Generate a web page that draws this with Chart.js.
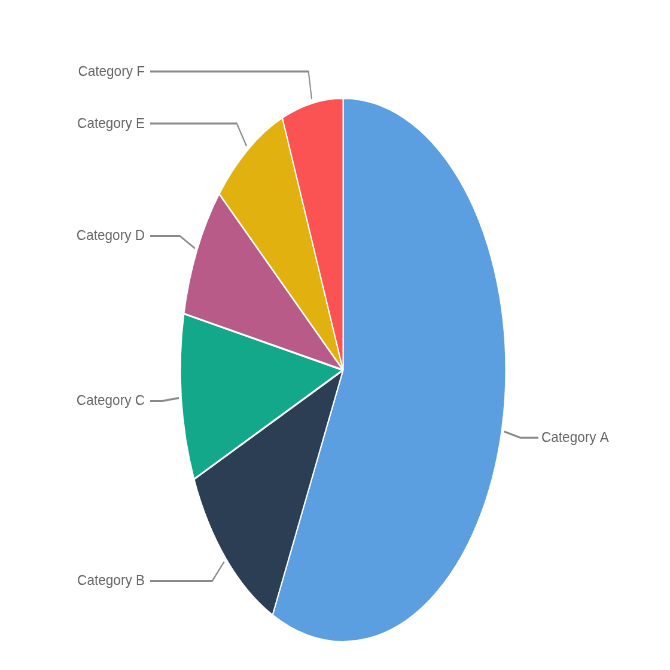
<!DOCTYPE html>
<html>
<head>
<meta charset="utf-8">
<script src="https://cdn.jsdelivr.net/npm/chart.js@4/dist/chart.umd.min.js"></script>
<style>
  html, body { margin: 0; padding: 0; background: #fff; overflow: hidden; }
  #wrap { width: 1120px; height: 670px; transform: scaleX(0.598214); transform-origin: 0 0; }
</style>
</head>
<body>
<div id="wrap"><canvas id="pie" width="1120" height="670"></canvas></div>
<script>
const categories = ['Category A', 'Category B', 'Category C', 'Category D', 'Category E', 'Category F'];
const values = [57.2, 11.3, 9.9, 7.9, 7.7, 6.1];
const colors = ['#5C9FE1', '#2C3E54', '#14A88B', '#B85B89', '#E1B20F', '#FB5353'];

// canvas is drawn wide and squeezed by css, so text gets widened back a bit
const squeeze = 670 / 1120;
const textStretch = 0.9 / squeeze;

const leaderLabels = {
  id: 'leaderLabels',
  afterDatasetsDraw(chart) {
    const ctx = chart.ctx;
    const arcs = chart.getDatasetMeta(0).data;
    ctx.save();
    arcs.forEach((arc, i) => {
      const { x, y, startAngle, endAngle, outerRadius } = arc.getProps(
        ['x', 'y', 'startAngle', 'endAngle', 'outerRadius'], true);
      const a = (startAngle + endAngle) / 2;
      const right = Math.cos(a) > 0;
      const sx = x + Math.cos(a) * (outerRadius + 4);
      const sy = y + Math.sin(a) * (outerRadius + 4);
      const ex = x + Math.cos(a) * (outerRadius + 32);
      const ey = y + Math.sin(a) * (outerRadius + 32);
      const lx = right ? 900 : 251;

      ctx.strokeStyle = '#8a8a8a';
      ctx.lineWidth = 2;
      ctx.beginPath();
      ctx.moveTo(sx, sy);
      ctx.lineTo(ex, ey);
      ctx.lineTo(lx, ey);
      ctx.stroke();

      ctx.save();
      ctx.translate(right ? lx + 5 : lx - 9, ey);
      ctx.scale(textStretch, 1);
      ctx.fillStyle = '#666';
      ctx.font = '15px "Liberation Sans", Arial, sans-serif';
      ctx.textAlign = right ? 'left' : 'right';
      ctx.textBaseline = 'middle';
      ctx.fillText(categories[i], 0, 0);
      ctx.restore();
    });
    ctx.restore();
  },
};

new Chart(document.getElementById('pie'), {
  type: 'pie',
  data: {
    labels: categories,
    datasets: [{
      data: values,
      backgroundColor: colors,
      borderColor: '#fff',
      borderWidth: 2,
      radius: 272,
    }],
  },
  options: {
    responsive: false,
    animation: false,
    devicePixelRatio: 1,
    layout: { padding: { top: 98, bottom: 28, left: 300, right: 273 } },
    plugins: {
      legend: { display: false },
      tooltip: { enabled: false },
    },
  },
  plugins: [leaderLabels],
});
</script>
</body>
</html>
